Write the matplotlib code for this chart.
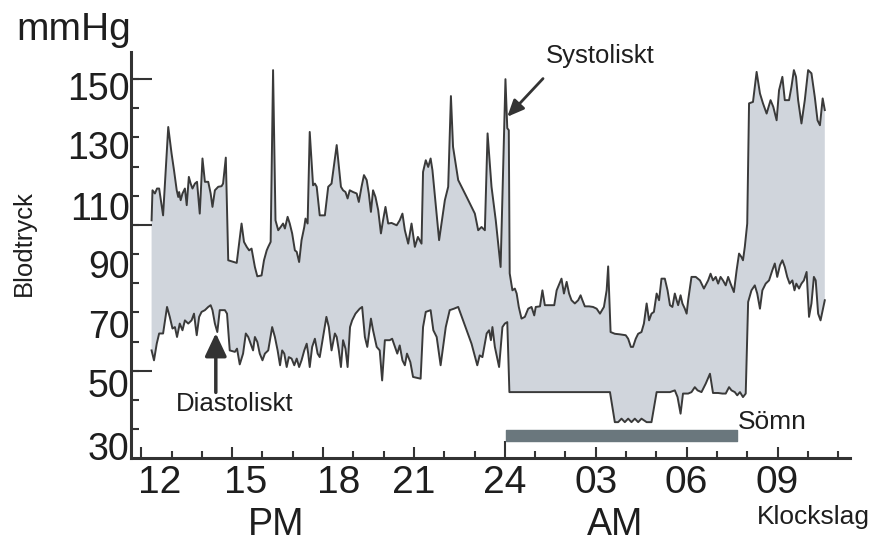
import numpy as np
import matplotlib
matplotlib.use("Agg")
import matplotlib.pyplot as plt
from matplotlib.transforms import ScaledTranslation

# --- 24 h ambulatory blood pressure ---
# time in hours counted from midnight before the recording (24 = midnight)
sys_hour = [
    12.34, 12.37, 12.45, 12.52, 12.59, 12.72, 12.89, 13.00, 13.08, 13.17,
    13.22, 13.25, 13.30, 13.36, 13.44, 13.50, 13.57, 13.63, 13.69, 13.77,
    13.84, 13.93, 14.02, 14.10, 14.21, 14.29, 14.35, 14.43, 14.54, 14.65,
    14.70, 14.79, 14.87, 15.06, 15.15, 15.31, 15.39, 15.48, 15.56, 15.64,
    15.75, 15.83, 15.97, 16.05, 16.14, 16.19, 16.27, 16.35, 16.43, 16.52,
    16.60, 16.68, 16.74, 16.83, 16.90, 16.98, 17.07, 17.13, 17.21, 17.29,
    17.38, 17.42, 17.49, 17.56, 17.67, 17.73, 17.79, 17.89, 18.06, 18.17,
    18.28, 18.45, 18.59, 18.66, 18.74, 18.81, 18.88, 18.99, 19.11, 19.18,
    19.27, 19.35, 19.44, 19.51, 19.58, 19.65, 19.73, 19.82, 19.91, 19.98,
    20.06, 20.15, 20.26, 20.43, 20.53, 20.62, 20.70, 20.81, 20.92, 21.03,
    21.13, 21.25, 21.30, 21.39, 21.47, 21.55, 21.61, 21.83, 22.02, 22.13,
    22.22, 22.29, 22.46, 22.74, 23.01, 23.12, 23.23, 23.34, 23.43, 23.56,
    23.70, 23.86, 24.02, 24.08, 24.13, 24.16, 24.25, 24.33, 24.39, 24.46,
    24.55, 24.66, 24.77, 24.88, 24.97, 25.02, 25.16, 25.24, 25.32, 25.49,
    25.63, 25.71, 25.87, 25.95, 26.04, 26.12, 26.20, 26.31, 26.42, 26.50,
    26.56, 26.64, 26.78, 26.91, 27.03, 27.14, 27.27, 27.36, 27.41, 27.49,
    27.63, 27.80, 27.99, 28.07, 28.16, 28.23, 28.32, 28.40, 28.51, 28.59,
    28.68, 28.76, 28.84, 28.92, 29.01, 29.09, 29.17, 29.28, 29.37, 29.45,
    29.53, 29.61, 29.67, 29.72, 29.80, 29.86, 29.94, 30.00, 30.05, 30.16,
    30.30, 30.44, 30.57, 30.71, 30.79, 30.87, 30.96, 31.04, 31.12, 31.20,
    31.29, 31.37, 31.45, 31.56, 31.65, 31.73, 31.81, 31.86, 31.92, 32.00,
    32.06, 32.19, 32.31, 32.42, 32.52, 32.64, 32.77, 32.86, 32.97, 33.05,
    33.16, 33.24, 33.38, 33.46, 33.54, 33.61, 33.68, 33.79, 33.90, 34.01,
    34.12, 34.23, 34.32, 34.40, 34.49, 34.56,
]
sys_mmhg = [
    101.6, 111.9, 110.8, 112.5, 112.5, 103.3, 133.6, 124.5, 118.8, 111.9,
    109.6, 111.3, 108.5, 110.8, 112.5, 106.8, 116.5, 114.2, 112.5, 114.2,
    114.8, 103.9, 122.8, 114.8, 114.8, 110.8, 106.2, 111.9, 113.1, 113.3,
    114.2, 123.1, 87.9, 87.3, 87.0, 100.5, 94.2, 92.5, 91.3, 91.9,
    85.6, 82.4, 82.7, 87.9, 91.3, 92.5, 94.2, 153.1, 101.6, 98.2,
    99.3, 100.5, 98.8, 102.8, 100.5, 97.1, 91.3, 90.8, 87.3, 94.8,
    99.3, 102.2, 100.5, 131.9, 113.6, 114.2, 113.1, 103.3, 103.3, 113.1,
    114.2, 127.4, 113.1, 111.9, 111.3, 109.1, 111.9, 111.3, 110.8, 107.9,
    113.1, 117.1, 115.4, 110.8, 104.5, 111.9, 109.6, 105.1, 97.1, 101.6,
    106.2, 100.5, 100.7, 99.9, 101.6, 103.9, 98.2, 93.6, 100.5, 92.5,
    95.9, 93.6, 118.2, 122.2, 119.9, 122.8, 118.8, 94.8, 108.5, 113.1,
    144.2, 126.8, 115.4, 109.6, 103.9, 98.2, 99.3, 98.2, 131.4, 113.1,
    101.6, 85.6, 150.0, 133.2, 132.5, 83.4, 77.6, 78.2, 76.5, 71.9,
    67.9, 68.5, 71.3, 71.9, 69.0, 71.9, 72.1, 77.6, 72.5, 72.5,
    72.5, 77.6, 81.6, 76.5, 80.5, 76.5, 74.2, 73.1, 74.2, 75.9,
    74.2, 72.1, 72.1, 71.9, 71.3, 69.6, 71.9, 77.6, 85.8, 63.3,
    62.7, 62.5, 62.2, 61.0, 58.2, 58.2, 61.0, 62.7, 63.3, 66.2,
    73.1, 67.3, 69.6, 70.2, 76.5, 74.2, 81.6, 81.6, 77.6, 72.5,
    71.9, 76.5, 74.2, 72.5, 75.9, 73.1, 71.3, 69.6, 74.2, 82.2,
    82.2, 81.0, 78.2, 81.0, 83.3, 81.0, 82.2, 79.9, 82.2, 81.0,
    79.3, 82.2, 79.9, 77.0, 84.5, 90.2, 89.0, 87.9, 92.5, 100.5,
    141.7, 142.2, 152.5, 145.1, 141.7, 138.2, 142.8, 140.5, 135.9, 146.2,
    150.8, 142.8, 142.8, 147.4, 153.1, 150.8, 142.8, 134.8, 142.8, 153.1,
    152.0, 143.9, 135.9, 134.2, 143.4, 139.4,
]
dia_hour = [
    12.34, 12.42, 12.51, 12.59, 12.72, 12.85, 12.94, 13.03, 13.11, 13.18,
    13.27, 13.36, 13.44, 13.55, 13.66, 13.74, 13.83, 13.91, 13.99, 14.10,
    14.21, 14.29, 14.35, 14.43, 14.51, 14.59, 14.76, 14.83, 14.92, 15.09,
    15.16, 15.25, 15.36, 15.45, 15.53, 15.61, 15.69, 15.75, 15.83, 15.91,
    16.00, 16.08, 16.19, 16.32, 16.41, 16.50, 16.58, 16.65, 16.72, 16.80,
    16.87, 16.96, 17.05, 17.13, 17.21, 17.29, 17.38, 17.46, 17.51, 17.56,
    17.64, 17.73, 17.82, 17.89, 18.00, 18.11, 18.19, 18.28, 18.39, 18.45,
    18.52, 18.59, 18.66, 18.74, 18.81, 18.89, 18.96, 19.07, 19.21, 19.29,
    19.38, 19.46, 19.58, 19.65, 19.77, 19.87, 19.95, 20.04, 20.20, 20.28,
    20.45, 20.53, 20.62, 20.70, 20.77, 20.88, 20.97, 21.22, 21.30, 21.39,
    21.55, 21.64, 21.75, 21.88, 22.05, 22.18, 22.32, 22.46, 22.62, 22.90,
    23.09, 23.17, 23.26, 23.40, 23.48, 23.54, 23.59, 23.67, 23.81, 23.92,
    24.00, 24.08, 24.15, 27.47, 27.63, 27.74, 27.85, 27.96, 28.07, 28.18,
    28.29, 28.40, 28.51, 28.68, 28.84, 29.01, 29.45, 29.61, 29.70, 29.80,
    29.88, 30.05, 30.16, 30.27, 30.36, 30.49, 30.63, 30.77, 30.87, 31.04,
    31.18, 31.29, 31.40, 31.48, 31.59, 31.67, 31.76, 31.86, 31.95, 32.03,
    32.14, 32.25, 32.33, 32.42, 32.50, 32.61, 32.72, 32.83, 32.91, 32.99,
    33.08, 33.16, 33.24, 33.32, 33.40, 33.49, 33.56, 33.62, 33.71, 33.79,
    33.87, 33.96, 34.04, 34.12, 34.20, 34.26, 34.34, 34.42, 34.49, 34.56,
]
dia_mmhg = [
    57.0, 53.6, 59.3, 62.8, 62.8, 71.9, 68.5, 64.5, 65.0, 61.6,
    66.2, 63.9, 67.3, 66.2, 67.3, 69.6, 62.2, 68.5, 70.2, 70.8,
    71.9, 72.5, 70.8, 66.2, 63.3, 70.8, 70.8, 69.6, 57.0, 56.5,
    57.6, 52.2, 55.9, 62.8, 61.6, 59.3, 57.0, 61.6, 59.9, 55.9,
    53.6, 55.9, 57.0, 65.0, 61.6, 57.0, 51.9, 57.0, 55.9, 51.3,
    54.7, 54.2, 51.9, 54.2, 51.3, 53.6, 57.0, 59.3, 55.9, 51.3,
    58.2, 61.0, 55.9, 54.7, 61.6, 68.5, 65.0, 57.0, 62.8, 61.6,
    57.0, 51.3, 60.5, 57.6, 51.3, 65.0, 67.3, 69.6, 71.3, 71.9,
    61.6, 58.2, 67.9, 63.9, 58.2, 57.0, 46.7, 60.5, 60.5, 61.0,
    55.9, 58.7, 53.6, 51.9, 55.9, 53.0, 47.9, 47.3, 65.0, 70.2,
    70.8, 63.9, 61.6, 51.9, 65.0, 70.8, 71.3, 71.9, 67.3, 59.3,
    51.9, 55.3, 54.7, 62.8, 63.9, 60.5, 65.0, 58.2, 51.3, 65.0,
    66.2, 66.7, 42.7, 42.7, 32.4, 32.4, 33.6, 32.4, 33.6, 32.4,
    33.6, 32.4, 33.6, 32.4, 32.4, 42.7, 42.7, 43.3, 41.0, 35.3,
    42.2, 42.2, 42.7, 44.4, 43.3, 42.7, 45.6, 49.0, 42.4, 42.4,
    42.2, 42.2, 44.4, 43.3, 42.7, 41.6, 42.7, 41.0, 42.2, 73.6,
    77.6, 79.3, 76.5, 71.3, 77.6, 79.9, 81.0, 84.5, 86.8, 82.2,
    86.2, 87.9, 85.6, 82.2, 79.9, 81.0, 77.6, 79.9, 78.2, 79.9,
    81.0, 83.9, 68.5, 73.1, 82.2, 81.0, 69.6, 67.3, 70.8, 74.2,
]

sleep_start, sleep_end = 24.03, 31.65
hour_ticks = [12, 15, 18, 21, 24, 27, 30, 33]
hour_labels = ["12", "15", "18", "21", "24", "03", "06", "09"]
mmhg_ticks = [30, 50, 70, 90, 110, 130, 150]

FILL = "#d0d5dc"
LINE = "#3a3a3a"
AXIS = "#333333"
BAR = "#6a777d"
TXT = "#1e1e1e"

plt.rcParams["font.family"] = ["Liberation Sans", "DejaVu Sans"]
fig = plt.figure(figsize=(8.72, 5.42), dpi=100)
ax = fig.add_axes([0.1502, 0.1544, 0.8245, 0.7496])

# band between the two curves
band_x = np.r_[sys_hour, dia_hour[::-1]]
band_y = np.r_[sys_mmhg, dia_mmhg[::-1]]
ax.fill(band_x, band_y, color=FILL, lw=0, zorder=1)
ax.plot(sys_hour, sys_mmhg, color=LINE, lw=1.4, zorder=2)
ax.plot(dia_hour, dia_mmhg, color=LINE, lw=1.4, zorder=2)

# sleep period
ax.broken_barh([(sleep_start, sleep_end - sleep_start)], (25.9, 3.9),
               color=BAR, zorder=2)

ax.set_xlim(11.66, 35.39)
ax.set_ylim(20, 159.3)

for side in ["top", "right"]:
    ax.spines[side].set_visible(False)
for side in ["left", "bottom"]:
    ax.spines[side].set_linewidth(2.2)
    ax.spines[side].set_color(AXIS)

ax.set_xticks(hour_ticks, hour_labels)
ax.set_xticks(np.arange(12, 36), minor=True)
ax.set_yticks(mmhg_ticks, [str(v) for v in mmhg_ticks])
ax.set_yticks(np.arange(40, 150, 20), minor=True)
ax.tick_params(axis="x", which="major", direction="in", length=8, width=1.5,
               color=AXIS, labelsize=28, pad=5, labelcolor=TXT)
ax.tick_params(axis="x", which="minor", direction="in", length=5, width=1.5,
               color=AXIS)
ax.tick_params(axis="y", which="both", direction="in", length=6, width=1.5,
               color=AXIS, labelsize=27, pad=1, labelcolor=TXT)
ax.xaxis.get_major_ticks()[4].tick1line.set_markersize(12.5)

# the printed labels sit a little off their ticks in the original
x_nudge = [13, 10, 11, 0, 0, 0, 0, 0]
for lab, dx in zip(ax.get_xticklabels(), x_nudge):
    lab.set_transform(lab.get_transform()
                      + ScaledTranslation(dx / 72, 0, fig.dpi_scale_trans))
y_nudge = [11.9, 8.9, 8.4, 6.8, 7.2, 5.6, 5.0]
for lab, dy in zip(ax.get_yticklabels(), y_nudge):
    lab.set_transform(lab.get_transform()
                      + ScaledTranslation(0, -dy / 72, fig.dpi_scale_trans))

# longer marks at 150, 100 and 50
ax.hlines([150, 100, 50], 11.66, sys_hour[0], color=AXIS, lw=1.5, zorder=3)

# annotations
ax.text(27.14, 157.9, "Systoliskt", ha="center", va="center",
        fontsize=18.5, color=TXT)
ax.annotate("", xy=(24.08, 137.1), xytext=(25.26, 150.2),
            arrowprops=dict(arrowstyle="-|>,head_length=0.5,head_width=0.22",
                            color=AXIS, lw=2, mutation_scale=20,
                            shrinkA=0, shrinkB=0))
ax.text(15.09, 38.5, "Diastoliskt", ha="center", va="center",
        fontsize=18.5, color=TXT)
ax.annotate("", xy=(14.46, 62.9), xytext=(14.46, 42.6),
            arrowprops=dict(arrowstyle="-|>,head_length=0.7,head_width=0.33",
                            color=AXIS, lw=2.5, mutation_scale=20,
                            shrinkA=0, shrinkB=0))
ax.text(sleep_end + 0.03, 32.4, "Sömn", ha="left", va="center",
        fontsize=19, color=TXT)

fig.text(74 / 872, 1 - 30 / 542, "mmHg", ha="center", va="center",
         fontsize=28, color=TXT)
fig.text(23.5 / 872, 1 - 243 / 542, "Blodtryck", ha="center", va="center",
         rotation=90, fontsize=18.5, color=TXT)
fig.text(276 / 872, 1 - 535 / 542, "PM", ha="center", va="baseline",
         fontsize=27, color=TXT)
fig.text(615 / 872, 1 - 535 / 542, "AM", ha="center", va="baseline",
         fontsize=27, color=TXT)
fig.text(813 / 872, 1 - 517 / 542, "Klockslag", ha="center", va="center",
         fontsize=19, color=TXT)

fig.savefig("out.png", dpi=100)
